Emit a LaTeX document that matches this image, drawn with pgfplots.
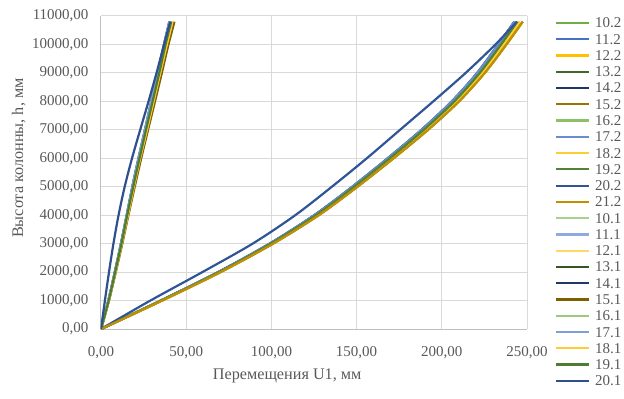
\documentclass[border=0pt]{standalone}
\usepackage{fontspec}
\setmainfont{Liberation Serif}
\usepackage{pgfplots}
\usepackage{pgfplotstable}
\pgfplotsset{compat=1.18}
\definecolor{gridc}{HTML}{D9D9D9}
\definecolor{axc}{HTML}{BFBFBF}
\definecolor{txtc}{HTML}{595959}
\definecolor{c102}{HTML}{70AD47}
\definecolor{c112}{HTML}{4472C4}
\definecolor{c122}{HTML}{FFC000}
\definecolor{c132}{HTML}{43682B}
\definecolor{c142}{HTML}{203864}
\definecolor{c152}{HTML}{9C7300}
\definecolor{c162}{HTML}{8CC168}
\definecolor{c172}{HTML}{698ED0}
\definecolor{c182}{HTML}{FFCD33}
\definecolor{c192}{HTML}{548235}
\definecolor{c202}{HTML}{2F5597}
\definecolor{c212}{HTML}{BF9000}
\definecolor{c101}{HTML}{A9D18E}
\definecolor{c111}{HTML}{8FAADC}
\definecolor{c121}{HTML}{FFD966}
\definecolor{c131}{HTML}{375623}
\definecolor{c141}{HTML}{1F3864}
\definecolor{c151}{HTML}{7F6000}
\definecolor{c161}{HTML}{9DC97F}
\definecolor{c171}{HTML}{7F9FD6}
\definecolor{c181}{HTML}{FFCC33}
\definecolor{c191}{HTML}{4E7D31}
\definecolor{c201}{HTML}{2E5090}

% right family (series .2): y and x-values of bundle variants A-D, outlier O
\pgfplotstableread{
y      A      B      C      D      O
0      0      0      0      0      0
1000   35.1   35.4   35.6   35.9   29.0
2000   68.8   69.3   69.7   70.2   59.5
3000   99.0   99.7   100.3  101.0  89.0
4000   125.2  126.1  126.9  127.8  114.0
5000   147.5  148.6  149.4  150.5  135.5
6000   168.3  169.5  170.5  171.7  156.0
7000   188.1  189.4  190.6  191.9  175.5
8000   205.9  207.4  208.6  210.1  195.0
9000   220.8  222.3  223.7  225.2  214.0
10000  233.1  234.8  236.2  237.9  231.5
10800  242.6  244.3  245.7  247.5  244.0
}\tabR

% left family (series .1)
\pgfplotstableread{
y      A      B      C      D      O
0      0      0      0      0      0
1000   4.3    4.5    4.5    4.7    2.3
2000   8.1    8.3    8.5    8.7    4.7
3000   11.7   12.0   12.2   12.5   7.3
4000   15.1   15.4   15.8   16.1   10.3
5000   18.4   18.9   19.3   19.8   13.9
6000   22.0   22.6   23.0   23.6   18.2
7000   25.8   26.4   27.0   27.6   23.0
8000   29.5   30.3   30.9   31.7   27.9
9000   33.3   34.2   34.8   35.7   32.6
10000  37.0   37.9   38.7   39.6   37.0
10800  40.1   41.2   42.0   43.1   40.6
}\tabL

\begin{document}
\begin{tikzpicture}
\begin{axis}[
  name=ax, at={(0,0)}, anchor=south west,
  width=426pt, height=313pt, scale only axis,
  xmin=0, xmax=250, ymin=0, ymax=11000,
  xtick={0,50,...,250}, ytick={0,1000,...,11000},
  major tick length=0pt,
  grid=major, major grid style={draw=gridc, line width=1pt},
  axis x line*=bottom, axis y line*=left,
  axis line style={-, draw=axc, line width=1pt},
  tick label style={font=\fontsize{15}{18}\selectfont, text=txtc},
  scaled ticks=false,
  /pgf/number format/fixed,
  /pgf/number format/fixed zerofill,
  /pgf/number format/precision=2,
  /pgf/number format/use comma,
  /pgf/number format/1000 sep={},
  /pgf/number format/assume math mode=true,
  yticklabel style={xshift=-9pt},
  xticklabel style={yshift=-14pt},
  xlabel={Перемещения U1, мм},
  ylabel={Высота колонны, h, мм},
  xlabel style={at={(axis description cs:0.437,-0.16)}, anchor=base, font=\fontsize{16.2}{19}\selectfont, text=txtc},
  ylabel style={at={(axis description cs:-0.183,0.546)}, anchor=base, font=\fontsize{16.2}{19}\selectfont, text=txtc},
  legend style={draw=none, fill=none, inner sep=0pt, at={(rel axis cs:1,1)}, anchor=north west,
    xshift=28pt, yshift=-1.7pt, row sep=6.27pt, column sep=4.7pt,
    nodes={inner sep=0pt, text height=10pt, text depth=0pt},
    font=\fontsize{15}{18}\selectfont, text=txtc},
  legend cell align=left,
  legend image code/.code={\draw[#1] (0pt,0pt) -- (33pt,0pt);},
  every axis plot/.append style={line width=2.2pt, smooth, no markers},
]
\addplot[c102] table[x=B, y=y] {\tabR}; \addlegendentry{10.2}
\addplot[c112] table[x=A, y=y] {\tabR}; \addlegendentry{11.2}
\addplot[c122] table[x=C, y=y] {\tabR}; \addlegendentry{12.2}
\addplot[c132] table[x=B, y=y] {\tabR}; \addlegendentry{13.2}
\addplot[c142] table[x=A, y=y] {\tabR}; \addlegendentry{14.2}
\addplot[c152] table[x=D, y=y] {\tabR}; \addlegendentry{15.2}
\addplot[c162] table[x=B, y=y] {\tabR}; \addlegendentry{16.2}
\addplot[c172] table[x=A, y=y] {\tabR}; \addlegendentry{17.2}
\addplot[c182] table[x=C, y=y] {\tabR}; \addlegendentry{18.2}
\addplot[c192] table[x=B, y=y] {\tabR}; \addlegendentry{19.2}
\addplot[c202] table[x=O, y=y] {\tabR}; \addlegendentry{20.2}
\addplot[c212] table[x=D, y=y] {\tabR}; \addlegendentry{21.2}
\addplot[c101] table[x=B, y=y] {\tabL}; \addlegendentry{10.1}
\addplot[c111] table[x=A, y=y] {\tabL}; \addlegendentry{11.1}
\addplot[c121] table[x=C, y=y] {\tabL}; \addlegendentry{12.1}
\addplot[c131] table[x=B, y=y] {\tabL}; \addlegendentry{13.1}
\addplot[c141] table[x=A, y=y] {\tabL}; \addlegendentry{14.1}
\addplot[c151] table[x=D, y=y] {\tabL}; \addlegendentry{15.1}
\addplot[c161] table[x=B, y=y] {\tabL}; \addlegendentry{16.1}
\addplot[c171] table[x=A, y=y] {\tabL}; \addlegendentry{17.1}
\addplot[c181] table[x=C, y=y] {\tabL}; \addlegendentry{18.1}
\addplot[c191] table[x=B, y=y] {\tabL}; \addlegendentry{19.1}
\addplot[c201] table[x=O, y=y] {\tabL}; \addlegendentry{20.1}
\end{axis}
\pgfresetboundingbox
\path (-101pt,-70pt) rectangle (523pt,329pt);
\end{tikzpicture}
\end{document}
